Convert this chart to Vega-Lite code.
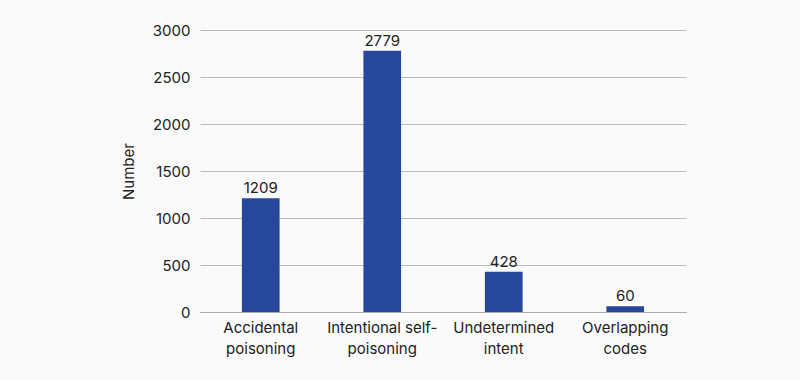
{
  "$schema": "https://vega.github.io/schema/vega-lite/v6.json",
  "autosize": {"type": "none"},
  "width": 486,
  "height": 282,
  "padding": {"left": 200, "top": 30, "right": 114, "bottom": 68},
  "background": "#fafafa",
  "config": {
    "font": "Inter",
    "view": {"stroke": null}
  },
  "data": {
    "values": [
      {"category": "Accidental poisoning", "value": 1209},
      {"category": "Intentional self-poisoning", "value": 2779},
      {"category": "Undetermined intent", "value": 428},
      {"category": "Overlapping codes", "value": 60}
    ]
  },
  "encoding": {
    "x": {
      "field": "category",
      "type": "nominal",
      "sort": null,
      "scale": {"paddingInner": 0.69, "paddingOuter": 0.345},
      "axis": {
        "title": null,
        "labelAngle": 0,
        "labelFontSize": 15,
        "labelColor": "#222222",
        "labelPadding": 8,
        "labelLineHeight": 21,
        "labelExpr": "datum.label == 'Accidental poisoning' ? ['Accidental','poisoning'] : datum.label == 'Intentional self-poisoning' ? ['Intentional self-','poisoning'] : datum.label == 'Undetermined intent' ? ['Undetermined','intent'] : ['Overlapping','codes']",
        "ticks": false,
        "domainColor": "#aaaaaa",
        "labelBaseline": "top"
      }
    },
    "y": {
      "field": "value",
      "type": "quantitative",
      "scale": {"domain": [0, 3000]},
      "axis": {
        "title": "Number",
        "titleFontSize": 15,
        "titleFontWeight": "normal",
        "titleColor": "#222222",
        "titlePadding": 16,
        "format": "d",
        "values": [0, 500, 1000, 1500, 2000, 2500, 3000],
        "labelFontSize": 15,
        "labelColor": "#222222",
        "labelPadding": 10,
        "ticks": false,
        "domain": false,
        "gridColor": "#bbbbbb"
      }
    }
  },
  "layer": [
    {"mark": {"type": "bar", "color": "#27479a"}},
    {
      "mark": {"type": "text", "dy": -10, "fontSize": 15, "color": "#222222"},
      "encoding": {"text": {"field": "value", "type": "quantitative", "format": "d"}}
    }
  ]
}
